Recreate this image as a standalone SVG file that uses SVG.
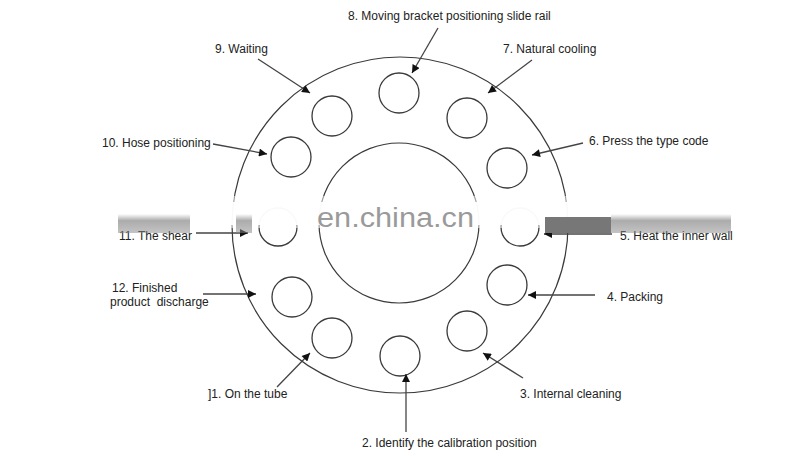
<svg xmlns="http://www.w3.org/2000/svg" width="790" height="456" viewBox="0 0 790 456">
<style>
.ring{fill:none;stroke:#3a3a3a;stroke-width:1.2}
.st{fill:none;stroke:#3a3a3a;stroke-width:1.3}
.cn{fill:none;stroke:#444;stroke-width:1.3}
.lb{font-family:"Liberation Sans",Arial,sans-serif;font-size:12px;fill:#222}
.wm{font-family:"Liberation Sans",Arial,sans-serif;font-size:27px;fill:#9a9a9a}
.wh{fill:#fff}
</style>
<defs>
<marker id="ah" viewBox="0 0 10 10" refX="10" refY="5" markerWidth="9" markerHeight="8" markerUnits="userSpaceOnUse" orient="auto">
<path d="M0,0 L10,5 L0,10 Z" fill="#111"/>
</marker>
<linearGradient id="gb" x1="0" y1="0" x2="0" y2="1">
<stop offset="0" stop-color="#888" stop-opacity="0"/>
<stop offset="0.35" stop-color="#888" stop-opacity="0.7"/>
<stop offset="1" stop-color="#888" stop-opacity="0.5"/>
</linearGradient>
</defs>
<rect width="790" height="456" fill="#fff"/>
<g id="outer-ring"><circle class="ring" cx="400" cy="225" r="168"/></g>
<g id="inner-ring"><circle class="ring" cx="399" cy="223" r="80"/></g>
<g id="station-8"><circle class="st" cx="399" cy="93" r="20"/></g>
<g id="station-7"><circle class="st" cx="467" cy="118" r="20"/></g>
<g id="station-6"><circle class="st" cx="507" cy="168" r="20"/></g>
<g id="station-5"><circle class="st" cx="520" cy="227" r="19"/></g>
<g id="station-4"><circle class="st" cx="507" cy="285" r="20"/></g>
<g id="station-3"><circle class="st" cx="467" cy="331" r="20"/></g>
<g id="station-2"><circle class="st" cx="400" cy="356" r="20"/></g>
<g id="station-1"><circle class="st" cx="332" cy="338" r="20"/></g>
<g id="station-12"><circle class="st" cx="292" cy="297" r="20"/></g>
<g id="station-11"><circle class="st" cx="278" cy="227" r="19"/></g>
<g id="station-10"><circle class="st" cx="291" cy="157" r="20"/></g>
<g id="station-9"><circle class="st" cx="332" cy="116" r="20"/></g>
<g id="connectors">
<line class="cn" x1="258" y1="59" x2="310" y2="93" marker-end="url(#ah)"/>
<line class="cn" x1="438" y1="28" x2="412" y2="73" marker-end="url(#ah)"/>
<line class="cn" x1="532" y1="60" x2="488" y2="93" marker-end="url(#ah)"/>
<line class="cn" x1="583" y1="143" x2="532" y2="155" marker-end="url(#ah)"/>
<line class="cn" x1="213" y1="144" x2="267" y2="154" marker-end="url(#ah)"/>
<line class="cn" x1="196" y1="233" x2="248" y2="233" marker-end="url(#ah)"/>
<line class="cn" x1="612" y1="234" x2="544" y2="234" marker-end="url(#ah)"/>
<line class="cn" x1="203" y1="294" x2="256" y2="294" marker-end="url(#ah)"/>
<line class="cn" x1="595" y1="295" x2="528" y2="295" marker-end="url(#ah)"/>
<line class="cn" x1="523" y1="378" x2="483" y2="353" marker-end="url(#ah)"/>
<line class="cn" x1="406" y1="432" x2="406" y2="374" marker-end="url(#ah)"/>
<line class="cn" x1="277" y1="387" x2="310" y2="353" marker-end="url(#ah)"/>
</g>
<g id="labels">
<text class="lb" x="348" y="20">8. Moving bracket positioning slide rail</text>
<text class="lb" x="215" y="53">9. Waiting</text>
<text class="lb" x="503" y="53">7. Natural cooling</text>
<text class="lb" x="102" y="147">10. Hose positioning</text>
<text class="lb" x="589" y="145">6. Press the type code</text>
<text class="lb" x="119" y="240">11. The shear</text>
<text class="lb" x="620" y="240">5. Heat the inner wall</text>
<text class="lb" x="112" y="292">12. Finished</text>
<text class="lb" x="110" y="306" xml:space="preserve">product  discharge</text>
<text class="lb" x="607" y="301">4. Packing</text>
<text class="lb" x="208" y="398">]1. On the tube</text>
<text class="lb" x="520" y="398">3. Internal cleaning</text>
<text class="lb" x="362" y="447">2. Identify the calibration position</text>
</g>
<g id="watermark">
<rect class="wh" x="0" y="196" width="790" height="6" opacity="0.5"/>
<rect class="wh" x="0" y="202" width="790" height="23" opacity="0.97"/>
<rect class="wh" x="0" y="225" width="790" height="3" opacity="0.5"/>
<rect x="118" y="214" width="72" height="19" fill="url(#gb)"/>
<rect x="236" y="214" width="16" height="19" fill="url(#gb)"/>
<rect x="545" y="217" width="66" height="16" fill="#777"/>
<rect x="611" y="214" width="120" height="19" fill="url(#gb)"/>
<text class="wm" x="317" y="227" textLength="157" lengthAdjust="spacingAndGlyphs">en.china.cn</text>
</g>
</svg>
